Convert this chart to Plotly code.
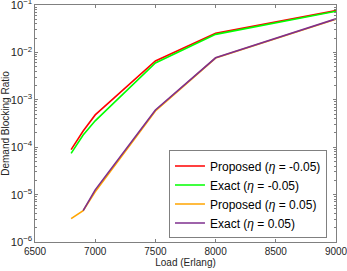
import plotly.graph_objects as go

load = [6800, 6900, 7000, 7500, 8000, 9000]
prop_neg = [8.9e-5, 2.2e-4, 4.8e-4, 6.6e-3, 0.0252, 0.076]
exact_neg = [7.4e-5, 1.8e-4, 3.6e-4, 6.0e-3, 0.024, 0.074]
prop_pos = [3.1e-6, 4.6e-6, 1.15e-5, 5.8e-4, 7.6e-3, 0.050]
exact_pos = [None, 4.6e-6, 1.26e-5, 6.1e-4, 7.7e-3, 0.051]

names = ["Proposed (<i>η</i> = -0.05)", "Exact (<i>η</i> = -0.05)",
         "Proposed (<i>η</i> = 0.05)", "Exact (<i>η</i> = 0.05)"]
series = [prop_neg, exact_neg, prop_pos, exact_pos]
colors = ["#FF0000", "#00FF00", "#FFA500", "#7E2F8E"]

fig = go.Figure()
for n, s, c in zip(names, series, colors):
    fig.add_trace(go.Scatter(x=load, y=s, mode="lines", name=n,
                             line=dict(color=c, width=1.6), connectgaps=False))

axis_common = dict(showline=True, linecolor="#808080", linewidth=1, mirror="ticks",
                   ticks="inside", ticklen=3, tickcolor="#808080", showgrid=False,
                   zeroline=False, automargin=False, ticklabeloverflow="allow")

fig.update_layout(
    width=347, height=271,
    margin=dict(l=35, r=11, t=5, b=29),
    paper_bgcolor="white", plot_bgcolor="white",
    font=dict(family="Liberation Sans, Arial, sans-serif", size=10, color="#262626"),
    xaxis=dict(range=[6500, 9000], dtick=500, tickfont=dict(size=10, color="#262626"),
               title=dict(text="Load (Erlang)", standoff=2, font=dict(size=10)), **axis_common),
    yaxis=dict(type="log", range=[-6, -1], dtick=1, exponentformat="power",
               tickfont=dict(size=9, color="#262626"),
               title=dict(text="Demand Blocking Ratio", standoff=4, font=dict(size=10)),
               minor=dict(ticks="inside", ticklen=2, tickcolor="#808080", showgrid=False),
               **axis_common),
    legend=dict(x=0.97, y=0.015, xanchor="right", yanchor="bottom",
                bgcolor="white", bordercolor="#808080", borderwidth=1,
                font=dict(size=12, color="#000000"), tracegroupgap=0,
                itemwidth=30),
    showlegend=True,
)

fig.write_html("out.html", config={"displayModeBar": False},
               post_script="document.body.style.margin='0';document.body.style.overflow='hidden';")
